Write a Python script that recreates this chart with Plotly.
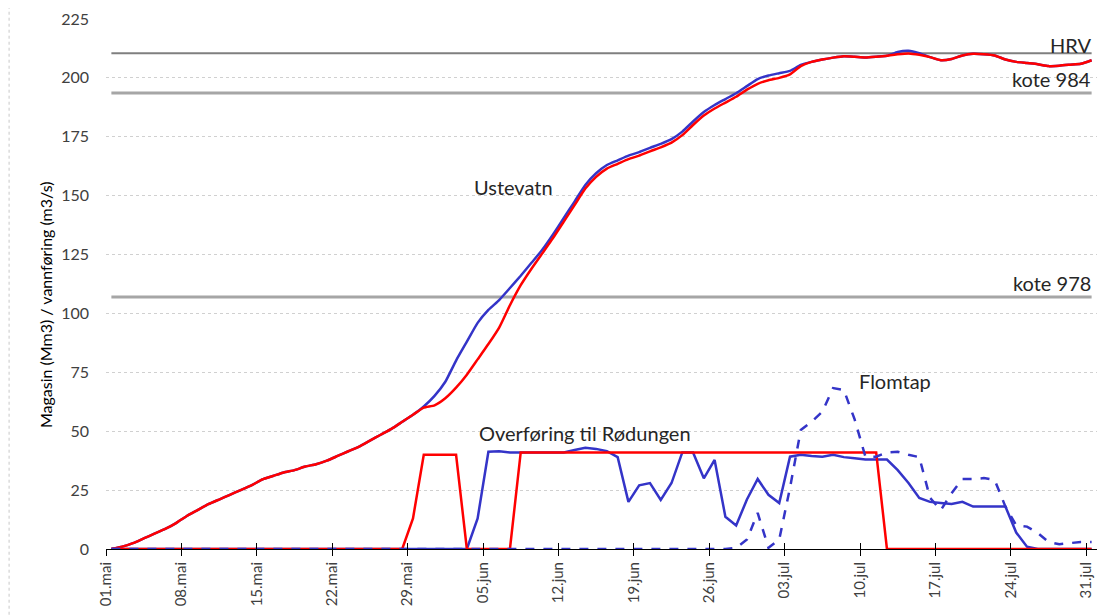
import pandas as pd
import plotly.graph_objects as go

# ---- data (daily values, 01.mai - 31.jul) ----
dates = pd.date_range("2021-05-01 12:00", periods=92, freq="D")

ustevatn_red = [
    0, 1, 2.5, 4.5, 6.5, 8.5, 11, 14, 16.5, 19,
    21, 23, 25, 27, 29.5, 31, 32.5, 33.5, 35, 36,
    37.5, 39.5, 41.5, 43.5, 46, 48.5, 51, 54, 57, 60,
    61, 64, 68.5, 74, 80.5, 87, 94, 103.5, 112, 119,
    125.5, 132, 139, 146, 153, 158, 161.5, 163.5, 165.5, 167,
    168.8, 170.5, 172.5, 175.7, 180, 184, 187, 189.5, 192, 195,
    197.5, 199, 200, 201.5, 205, 206.8, 207.8, 208.6, 209.2, 209,
    208.7, 209, 209.4, 210, 210.4, 209.8, 208.8, 207.5, 208, 209.5,
    210.2, 210, 209.5, 207.8, 206.8, 206.3, 205.8, 205, 205.2, 205.6,
    206, 207.5,
]

ustevatn_blue = [
    0, 1, 2.5, 4.5, 6.5, 8.5, 11, 14, 16.5, 19,
    21, 23, 25, 27, 29.5, 31, 32.5, 33.5, 35, 36,
    37.5, 39.5, 41.5, 43.5, 46, 48.5, 51, 54, 57, 60.5,
    65, 71, 80, 88, 96, 101.5, 105.7, 110.8, 116, 121.5,
    127, 133.5, 140.5, 147.5, 154.5, 159.5, 163, 165, 167, 168.5,
    170.3, 172, 174, 177.2, 181.5, 185.5, 188.5, 191, 193.5, 196.5,
    199.5, 201, 202, 203, 205.5, 206.8, 207.8, 208.6, 209.2, 209,
    208.7, 209, 209.4, 211, 211.5, 210.5, 208.8, 207.5, 208, 209.5,
    210.2, 210, 209.5, 207.8, 206.8, 206.3, 205.8, 205, 205.2, 205.6,
    206, 207.5,
]

overforing_red = (
    [0] * 28 + [13] + [40] * 4 + [0] * 5 + [41] * 34 + [0] * 20
)

overforing_blue = (
    [0] * 34 + [13, 41.3, 41.5, 41, 41, 41, 41, 41, 41, 42,
                43, 42.5, 41.5, 39, 20, 27, 28, 20.8, 28, 41,
                41, 30, 37.8, 13.7, 10, 21, 29.7, 23, 19.5, 39.2,
                40, 39.5, 39.2, 40, 39, 38.5, 38, 38, 38, 33.5,
                28, 21.7, 20, 19.5, 19.1, 20, 18, 18, 18, 18,
                7, 1] + [0] * 6
)

flomtap_blue = (
    [0] * 58 + [0.5, 4, 15.3, 0.5, 4, 26, 50.5, 54, 58.3, 68.3,
                67.5, 55, 39.2, 39.2, 41, 41.3, 40, 39, 21.7, 16.5,
                23.7, 29.7, 29.7, 30.1, 29.3, 18, 10, 9.5, 6.8, 3,
                2, 2.5, 3, 3]
)

hrv = [210.5] * 92
kote984 = [193.6] * 92
kote978 = [107.0] * 92

tick_dates = pd.date_range("2021-05-01", "2021-07-31", freq="7D")
tick_text = [d.strftime("%d.") + {5: "mai", 6: "jun", 7: "jul"}[d.month] for d in tick_dates]
y_ticks = [0, 25, 50, 75, 100, 125, 150, 175, 200, 225]

RED = "#FF0000"
BLUE = "#3434C8"
FONT = "Lato"

fig = go.Figure()

# reference levels
fig.add_trace(go.Scatter(x=dates, y=kote978, mode="lines", line=dict(color="#A6A6A6", width=3), hoverinfo="skip"))
fig.add_trace(go.Scatter(x=dates, y=kote984, mode="lines", line=dict(color="#A6A6A6", width=3), hoverinfo="skip"))
fig.add_trace(go.Scatter(x=dates, y=hrv, mode="lines", line=dict(color="#7F7F7F", width=2), hoverinfo="skip"))

# reservoir
fig.add_trace(go.Scatter(x=dates, y=ustevatn_blue, mode="lines", line=dict(color=BLUE, width=2.5, shape="spline", smoothing=0.5)))
fig.add_trace(go.Scatter(x=dates, y=ustevatn_red, mode="lines", line=dict(color=RED, width=2.5, shape="spline", smoothing=0.5)))

# transfer
fig.add_trace(go.Scatter(x=dates, y=overforing_blue, mode="lines", line=dict(color=BLUE, width=2.5)))
fig.add_trace(go.Scatter(x=dates, y=overforing_red, mode="lines", line=dict(color=RED, width=2.5)))

# spill
fig.add_trace(go.Scatter(x=dates, y=flomtap_blue, mode="lines", line=dict(color=BLUE, width=2.5, dash="dash")))

x_range = [pd.Timestamp("2021-05-01"), pd.Timestamp("2021-08-01")]

# page body has an 8px default margin, so the figure is sized/offset to compensate
fig.update_layout(
    width=1098, height=607,
    margin=dict(l=98, r=9, t=11, b=66, autoexpand=False),
    paper_bgcolor="white", plot_bgcolor="white",
    showlegend=False,
    font=dict(family=FONT, size=15, color="#404040"),
    xaxis=dict(
        range=x_range, tickvals=tick_dates, ticktext=tick_text, tickangle=-90,
        ticks="outside", ticklen=6, tickcolor="#000000", tickwidth=1,
        showline=True, linecolor="#000000", linewidth=1,
        showgrid=False, zeroline=False, automargin=False,
        tickfont=dict(family=FONT, size=15, color="#404040"),
    ),
    xaxis2=dict(
        range=x_range, tickvals=tick_dates, overlaying="x", matches="x",
        ticks="inside", ticklen=6, tickcolor="#000000", tickwidth=1,
        showticklabels=False, showgrid=False, showline=False, zeroline=False,
    ),
    yaxis=dict(
        range=[0, 225], tickvals=y_ticks, showline=False, zeroline=False,
        showgrid=True, gridcolor="#D0D0D0", griddash="dot", gridwidth=1,
        ticks="", ticklabelstandoff=16, automargin=False,
        tickfont=dict(family=FONT, size=16, color="#404040"),
    ),
)

# dummy trace to display the second x-axis ticks
fig.add_trace(go.Scatter(x=[dates[0]], y=[None], xaxis="x2", mode="lines", hoverinfo="skip"))

# y-axis title placed as rotated text
fig.add_annotation(x=-0.0616, y=0.462, xref="paper", yref="paper", textangle=-90,
                   xanchor="center", yanchor="middle",
                   text="Magasin (Mm3) / vannføring (m3/s)", showarrow=False,
                   font=dict(family=FONT, size=16, color="#000000"))

ann_font = dict(family=FONT, size=20, color="#262626")
fig.add_annotation(x=pd.Timestamp("2021-06-07 19:00"), y=153.7, text="Ustevatn", showarrow=False, font=ann_font)
fig.add_annotation(x=pd.Timestamp("2021-06-14 12:00"), y=49.2, text="Overføring til Rødungen", showarrow=False, font=ann_font)
fig.add_annotation(x=pd.Timestamp("2021-07-13 07:00"), y=71.3, text="Flomtap", showarrow=False, font=ann_font)
fig.add_annotation(x=0.996, xref="paper", xanchor="right", y=213.8, text="HRV", showarrow=False, font=ann_font)
fig.add_annotation(x=0.996, xref="paper", xanchor="right", y=199.5, text="kote 984", showarrow=False, font=ann_font)
fig.add_annotation(x=0.996, xref="paper", xanchor="right", y=113.0, text="kote 978", showarrow=False, font=ann_font)

# chart border (left dotted edge)
fig.add_shape(type="line", xref="paper", yref="paper", x0=-0.0978, x1=-0.0978, y0=-0.124, y1=1.021,
              line=dict(color="#C8C8C8", width=1, dash="dot"))

fig.write_html("out.html")
